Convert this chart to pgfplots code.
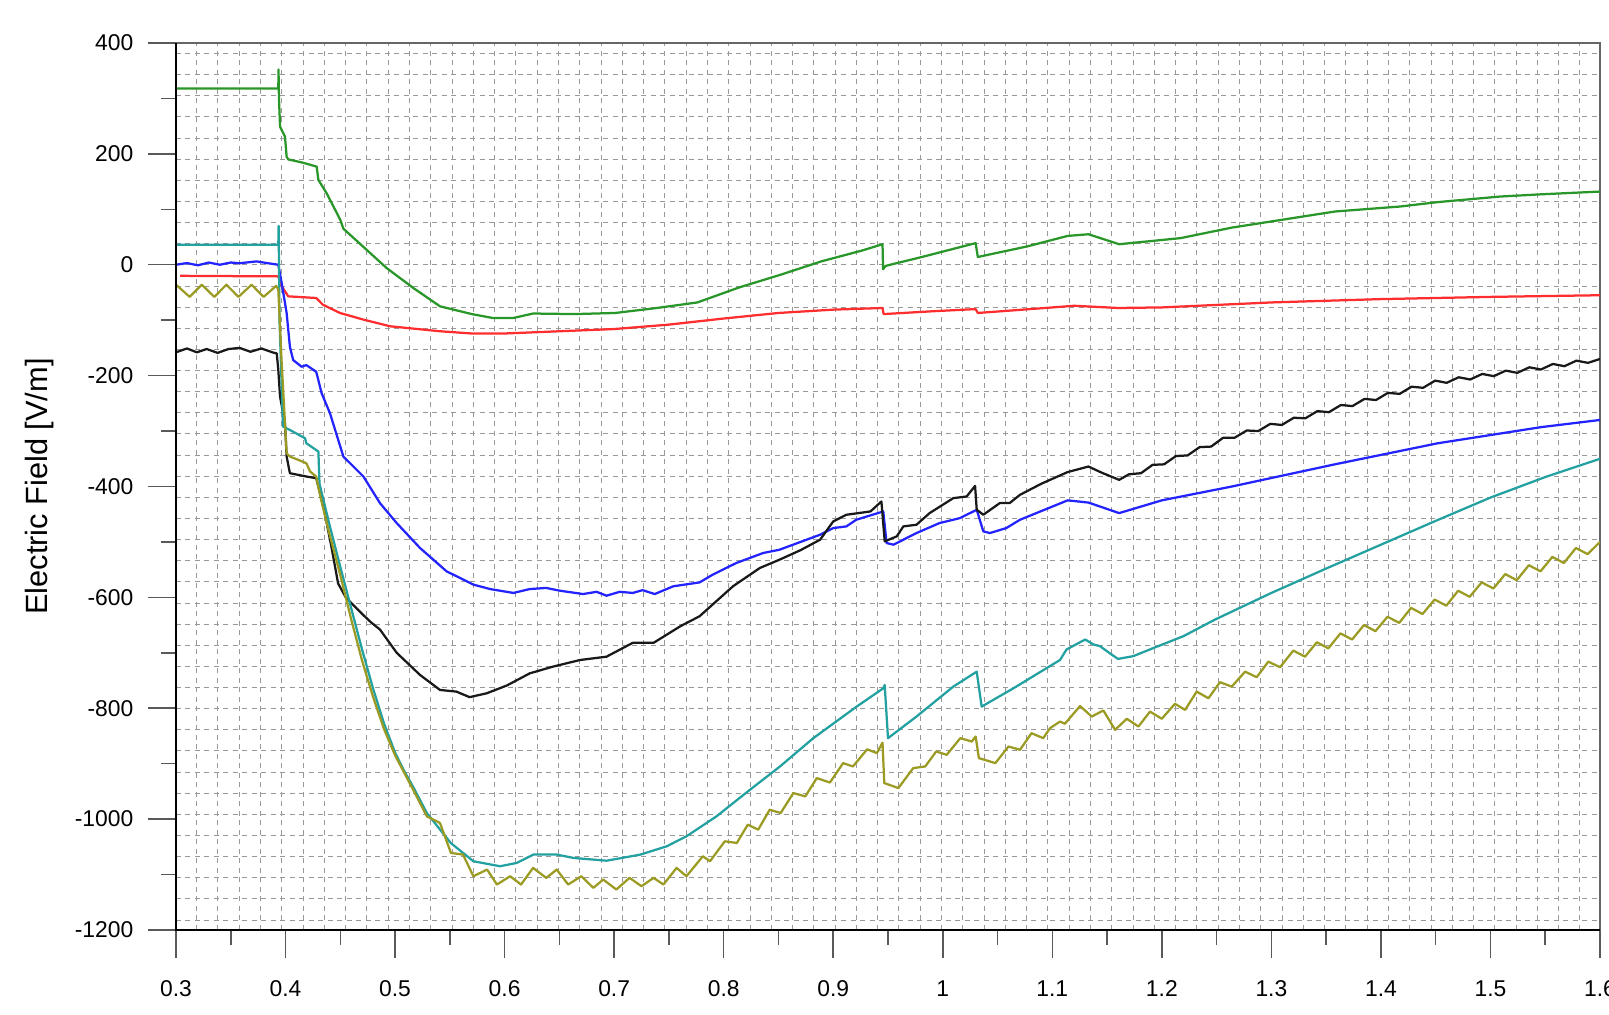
\documentclass[border=0pt]{standalone}
\usepackage{fontspec}
\setmainfont{Liberation Sans}
\usepackage{pgfplots}
\pgfplotsset{compat=1.18}

\definecolor{cgreen}{RGB}{40,150,40}
\definecolor{cred}{RGB}{255,45,45}
\definecolor{cblue}{RGB}{35,35,255}
\definecolor{cteal}{RGB}{35,160,160}
\definecolor{cblack}{RGB}{25,25,25}
\definecolor{colive}{RGB}{155,155,35}

\begin{document}
\begin{tikzpicture}
\useasboundingbox (-35.2mm,-17mm) rectangle (286.6mm,186mm);
\begin{axis}[
  at={(0,0)}, anchor=south west,
  scale only axis, width=284.8mm, height=177.4mm,
  xmin=0.3, xmax=1.6, ymin=-1200, ymax=400,
  xtick={0.3,0.4,0.5,0.6,0.7,0.8,0.9,1,1.1,1.2,1.3,1.4,1.5,1.6},
  xticklabels={0.3,0.4,0.5,0.6,0.7,0.8,0.9,1,1.1,1.2,1.3,1.4,1.5,1.6},
  ytick={-1200,-1000,-800,-600,-400,-200,0,200,400},
  yticklabels={-1200,-1000,-800,-600,-400,-200,0,200,400},
  minor xtick={0.3189,0.338328,...,1.583},
  minor ytick={-1182,-1143.88,...,383},
  xminorgrids=true, yminorgrids=true,
  minor grid style={black!40, line width=0.2mm, dash pattern=on 1mm off 0.9mm},
  minor tick length=0pt,
  major tick length=5.6mm,
  tick align=outside,
  xtick pos=left, ytick pos=left,
  tick style={black!65, line width=0.3mm},
  extra x ticks={0.35,0.45,0.55,0.65,0.75,0.85,0.95,1.05,1.15,1.25,1.35,1.45,1.55},
  extra x tick labels={},
  extra x tick style={major tick length=3mm, grid=none},
  extra y ticks={-1100,-900,-700,-500,-300,-100,100,300},
  extra y tick labels={},
  extra y tick style={major tick length=3mm, grid=none},
  axis line style={black!60, line width=0.4mm},
  ticklabel style={font=\fontsize{13}{15}\selectfont},
  xticklabel style={yshift=-3.3mm},
  yticklabel style={xshift=-1.7mm},
  ylabel={Electric Field [V/m]},
  ylabel style={font=\fontsize{17.5}{20}\selectfont, at={(axis description cs:0,0.5)}, anchor=center, yshift=27.2mm},
  every axis plot/.append style={line width=0.45mm, line join=round},
]
% green
\addplot[cgreen] coordinates {
(0.300,318) (0.3934,318) (0.3936,352) (0.394,300) (0.395,249) (0.3995,231) (0.401,195) (0.4025,190)
(0.416,184) (0.4284,177) (0.430,153) (0.4375,129) (0.45,81) (0.4528,65) (0.474,27) (0.4923,-6)
(0.5167,-42) (0.541,-75) (0.570,-89) (0.589,-96) (0.608,-96) (0.626,-88) (0.664,-89) (0.701,-87)
(0.739,-78) (0.776,-68) (0.814,-41) (0.852,-18) (0.889,6) (0.927,26) (0.945,37) (0.9455,-8)
(0.948,-2) (0.983,15) (1.030,39) (1.032,14) (1.077,33) (1.114,52) (1.133,55) (1.161,37)
(1.217,48) (1.264,67) (1.358,96) (1.4174,105) (1.452,113) (1.5087,123) (1.546,127) (1.6,132)
};
% red
\addplot[cred] coordinates {
(0.3037,-20) (0.3934,-21) (0.3965,-39) (0.4025,-57) (0.428,-60) (0.434,-72) (0.4497,-87)
(0.4711,-99) (0.4954,-111) (0.541,-120) (0.57,-124) (0.6,-124) (0.65,-120) (0.7,-116)
(0.75,-108) (0.8,-97) (0.85,-87) (0.9,-81) (0.945,-78) (0.946,-89) (0.99,-84) (1.03,-80)
(1.032,-87) (1.08,-80) (1.12,-74) (1.16,-78) (1.2,-77) (1.3,-68) (1.4,-62) (1.5,-58) (1.6,-55)
};
% blue
\addplot[cblue] coordinates {
(0.3,0) (0.31,3) (0.32,-1) (0.33,4) (0.34,0) (0.35,4) (0.358,2.7) (0.3736,6) (0.383,3)
(0.3934,0) (0.3965,-33) (0.401,-87) (0.404,-148) (0.407,-172) (0.4147,-184) (0.419,-181)
(0.428,-193) (0.433,-232) (0.4406,-268) (0.4528,-346) (0.4711,-382) (0.4862,-430) (0.5015,-466)
(0.5228,-511) (0.547,-553) (0.5715,-577) (0.5867,-585) (0.608,-592) (0.623,-585) (0.638,-583)
(0.6505,-588) (0.6716,-594) (0.684,-590) (0.693,-597) (0.705,-590) (0.717,-592) (0.726,-587)
(0.737,-594) (0.754,-580) (0.778,-573) (0.790,-559) (0.8115,-538) (0.836,-520) (0.851,-514)
(0.888,-487) (0.9,-475) (0.912,-472) (0.921,-460) (0.9457,-445) (0.9487,-502) (0.955,-505)
(0.976,-484) (0.997,-466) (1.0157,-457) (1.031,-442) (1.037,-481) (1.043,-484) (1.058,-475)
(1.0705,-460) (1.114,-425) (1.133,-429) (1.161,-448) (1.2,-425) (1.264,-400) (1.358,-360)
(1.452,-322) (1.546,-293) (1.6,-280)
};
% black
\addplot[cblack] coordinates {
(0.3,-158) (0.31,-151) (0.319,-158) (0.328,-152) (0.338,-159) (0.348,-152) (0.358,-150)
(0.368,-157) (0.378,-151) (0.388,-158) (0.392,-160) (0.3934,-190) (0.395,-238) (0.3995,-286)
(0.401,-346) (0.404,-376) (0.419,-382) (0.428,-385) (0.435,-440) (0.442,-510) (0.448,-575)
(0.455,-600) (0.462,-614) (0.47,-630) (0.478,-645) (0.4862,-658) (0.5015,-700) (0.5228,-740)
(0.541,-767) (0.556,-770) (0.568,-780) (0.5837,-773) (0.602,-759) (0.623,-737) (0.644,-725)
(0.6688,-713) (0.693,-707) (0.717,-682) (0.736,-682) (0.7605,-652) (0.778,-634) (0.8085,-580)
(0.833,-547) (0.851,-532) (0.87,-515) (0.888,-496) (0.9,-463) (0.912,-451) (0.934,-445)
(0.944,-427) (0.947,-499) (0.958,-490) (0.964,-472) (0.976,-469) (0.988,-448) (1.0096,-421)
(1.0218,-418) (1.0295,-399) (1.031,-442) (1.037,-451) (1.052,-430) (1.061,-430) (1.0705,-415)
(1.09,-395) (1.114,-374) (1.133,-364) (1.145,-375) (1.161,-388)
(1.17,-378) (1.181,-376) (1.1915,-361) (1.202,-360) (1.213,-345) (1.2235,-344) (1.2345,-329)
(1.245,-328) (1.256,-312) (1.2665,-312) (1.2775,-299) (1.288,-300) (1.299,-287) (1.3095,-289)
(1.3205,-276) (1.331,-277) (1.342,-264) (1.3525,-266) (1.3635,-253) (1.374,-255) (1.385,-242)
(1.3955,-244) (1.4065,-231) (1.417,-233) (1.428,-220) (1.4385,-222) (1.4495,-209) (1.46,-213)
(1.471,-203) (1.4815,-207) (1.4925,-197) (1.503,-201) (1.514,-191) (1.5245,-195) (1.5355,-185)
(1.546,-189) (1.557,-179) (1.5675,-183) (1.5785,-173) (1.589,-177) (1.6,-170)
};
% teal
\addplot[cteal] coordinates {
(0.3,36) (0.3934,36) (0.3937,70) (0.3945,-100) (0.3977,-292) (0.404,-298) (0.4178,-313)
(0.419,-322) (0.43,-337) (0.431,-395) (0.44,-468) (0.45,-545) (0.46,-620) (0.47,-695)
(0.48,-765) (0.49,-828) (0.50,-880) (0.508,-912) (0.516,-940) (0.529,-989) (0.5508,-1043)
(0.5715,-1076) (0.5958,-1085) (0.6111,-1079) (0.6263,-1064) (0.6476,-1064) (0.6628,-1070)
(0.693,-1075) (0.724,-1064) (0.748,-1049) (0.766,-1031) (0.7934,-995) (0.824,-947)
(0.8514,-905) (0.8818,-854) (0.9214,-797) (0.9457,-764) (0.947,-758) (0.950,-854) (0.976,-815)
(1.0096,-761) (1.031,-734) (1.0355,-797) (1.0645,-764) (1.107,-713) (1.113,-694) (1.130,-676)
(1.1375,-685) (1.1435,-688) (1.154,-703) (1.16,-711) (1.174,-706) (1.189,-694) (1.2197,-670)
(1.2486,-640) (1.3,-592) (1.35,-548) (1.4,-505) (1.45,-462) (1.5,-420) (1.55,-383) (1.6,-350)
};
% olive
\addplot[colive] coordinates {
(0.3,-36) (0.3125,-58) (0.3235,-36) (0.335,-58) (0.346,-36) (0.357,-58) (0.369,-36) (0.38,-58)
(0.3915,-38) (0.3934,-45) (0.3965,-178) (0.401,-340) (0.404,-346) (0.4117,-352) (0.419,-358)
(0.4224,-373) (0.428,-382) (0.432,-420) (0.44,-485) (0.45,-560) (0.46,-640) (0.47,-715)
(0.48,-780) (0.49,-838) (0.50,-885) (0.508,-915) (0.516,-945) (0.529,-995) (0.541,-1007)
(0.551,-1061) (0.562,-1064) (0.5715,-1103) (0.584,-1091) (0.593,-1118) (0.605,-1103)
(0.615,-1118) (0.626,-1088) (0.638,-1106) (0.6476,-1091) (0.658,-1118) (0.670,-1103)
(0.681,-1124) (0.690,-1109) (0.702,-1127) (0.714,-1106) (0.725,-1121) (0.736,-1106)
(0.745,-1118) (0.757,-1088) (0.766,-1103) (0.781,-1067) (0.7875,-1076) (0.801,-1040)
(0.812,-1043) (0.822,-1010) (0.8315,-1019) (0.842,-983) (0.852,-989) (0.8636,-953)
(0.8745,-959) (0.885,-926) (0.897,-934) (0.909,-899) (0.918,-905) (0.931,-874) (0.9398,-881)
(0.945,-862) (0.9466,-935) (0.9595,-944) (0.973,-908) (0.984,-905) (0.994,-878) (1.0036,-884)
(1.016,-854) (1.0265,-860) (1.030,-851) (1.033,-890) (1.048,-899) (1.060,-869) (1.0705,-875)
(1.081,-845) (1.0917,-854) (1.0979,-836) (1.107,-824) (1.1115,-828) (1.1253,-796) (1.136,-815)
(1.1466,-804) (1.1573,-839) (1.168,-819) (1.1786,-833) (1.1892,-806) (1.1999,-819) (1.212,-792)
(1.2212,-803) (1.2318,-770) (1.2425,-782) (1.2531,-753) (1.2638,-761) (1.276,-734) (1.2866,-744)
(1.2972,-716) (1.3079,-726) (1.32,-696) (1.3307,-707) (1.3415,-681) (1.352,-692) (1.363,-665)
(1.3737,-676) (1.3845,-650) (1.395,-661) (1.406,-635) (1.4167,-646) (1.4275,-619) (1.438,-630)
(1.449,-604) (1.4597,-615) (1.4705,-588) (1.481,-599) (1.492,-573) (1.5027,-584) (1.5135,-558)
(1.524,-569) (1.535,-542) (1.5457,-553) (1.5565,-527) (1.567,-538) (1.578,-511) (1.5887,-522)
(1.6,-500)
};
\end{axis}
% small ticks along the x axis (minor ticks carry no labels)
\begin{axis}[
  at={(0,0)}, anchor=south west,
  scale only axis, width=284.8mm, height=177.4mm,
  xmin=0.3, xmax=1.6, ymin=-1200, ymax=400,
  axis line style={draw=none},
  xtick=\empty, ytick=\empty,
  minor xtick={0.3,0.305,...,1.601},
  minor tick length=1mm, tick align=outside, xtick pos=left,
  tick style={black!55, line width=0.2mm},
]
\end{axis}
\draw[black, line width=0.5mm] (284.8mm,0) -- (0,0) -- (0,177.4mm);
\end{tikzpicture}
\end{document}
